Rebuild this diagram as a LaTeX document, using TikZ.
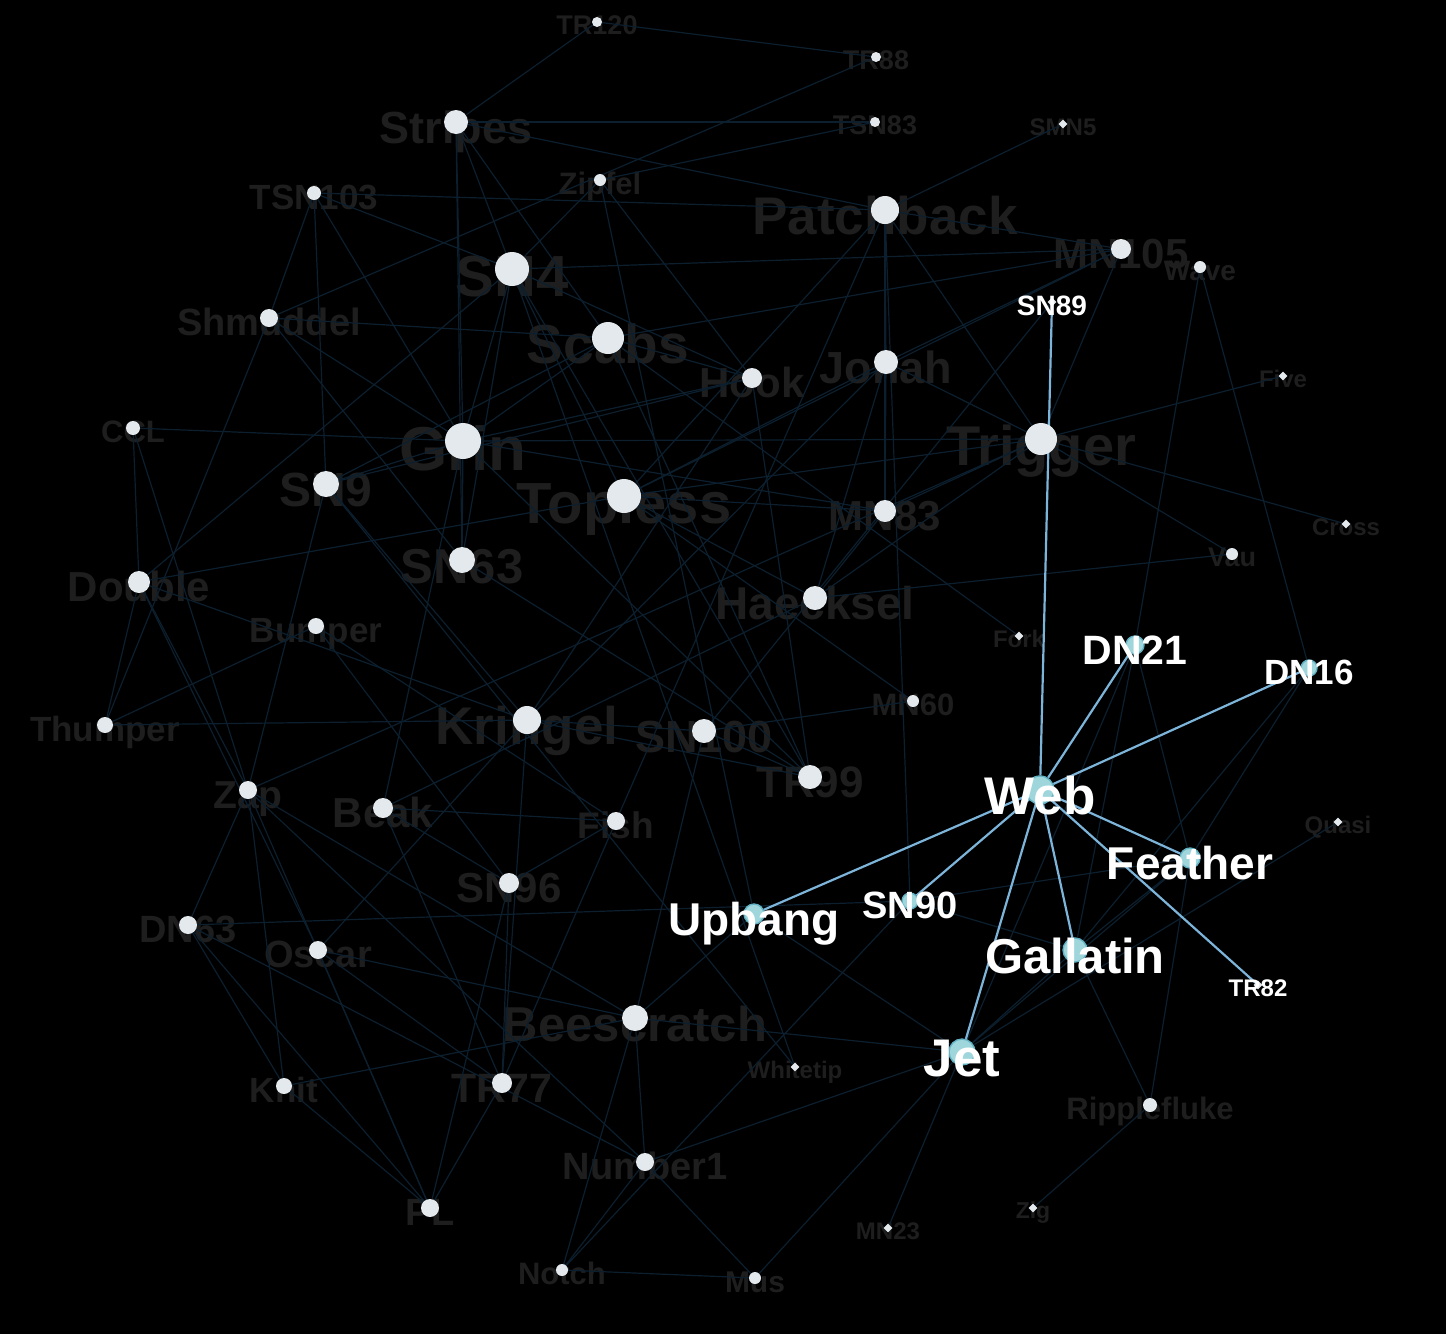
\documentclass[tikz,border=0pt]{standalone}
\usepackage{fontspec}
\setmainfont{Liberation Sans}
\usetikzlibrary{shapes.geometric}
\definecolor{PodBG}{HTML}{000000}
\definecolor{PodNode}{HTML}{E3E9ED}
\definecolor{PodInk}{HTML}{1E1E1E}
\definecolor{PodEdge}{HTML}{0C1F2F}
\definecolor{PodBlue}{HTML}{7DB4D9}
\definecolor{PodHub}{HTML}{9FD6DC}
\definecolor{PodRing}{HTML}{62B2C4}
\pgfdeclarelayer{bg}
\pgfdeclarelayer{labels}
\pgfdeclarelayer{edges}
\pgfdeclarelayer{front}
\pgfsetlayers{bg,labels,edges,main,front}
\tikzset{
  podnode/.style  = {circle, fill=PodNode, inner sep=0pt},
  podpip/.style   = {diamond, fill=PodNode, inner sep=0pt, minimum size=9pt},
  podhub/.style   = {circle, fill=PodHub, draw=PodRing, line width=1.4pt, inner sep=0pt},
  podlbl/.style   = {text=PodInk, inner sep=0pt, anchor=base},
  podlblhi/.style = {podlbl, text=white},
  podedge/.style  = {PodEdge, line width=1.2pt},
  podedgehi/.style= {PodBlue, line width=2.2pt},
}
\begin{document}
\begin{tikzpicture}[x=1pt, y=-1pt]
  \begin{pgfonlayer}{bg}
    \fill[PodBG] (0,0) rectangle (1446,1334);
  \end{pgfonlayer}
  \useasboundingbox (0,0) rectangle (1446,1334);

  % ordinary dolphins: name/x/y/radius/font size
  \foreach \n/\x/\y/\r/\f in {Beak/383/808/10/42, Beescratch/635/1018/13/49, Bumper/316/626/8/35,
      CCL/133/428/7/31, Double/139/582/11/42, Fish/616/821/9/37, Grin/463/441/18/62,
      Haecksel/815/598/12/46, Hook/752/378/10/42, Jonah/886/362/12/45, Knit/284/1086/8/35,
      Kringel/527/720/14/53, MN105/1121/249/10/42, MN60/913/701/6/31, MN83/885/511/11/42,
      Mus/755/1278/6/30, Notch/562/1270/6/31, Number1/645/1162/9/38, Oscar/318/950/9/38,
      Patchback/885/210/14/53, PL/430/1208/9/38, Ripplefluke/1150/1105/7/31, Scabs/608/338/16/55,
      Shmuddel/269/318/9/38, SN100/704/731/12/45, SN4/512/269/17/58, SN63/462/560/13/49,
      SN9/326/484/13/48, SN96/509/883/10/42, Stripes/456/122/12/45, Thumper/105/725/8/35,
      Topless/624/496/17/58, TR120/597/22/5/27, TR77/502/1083/10/41, TR88/876/57/5/27,
      TR99/810/777/12/44, Trigger/1041/439/16/56, TSN103/314/193/7/35, TSN83/875/122/5/27,
      Vau/1232/554/6/27, Wave/1200/267/6/28, Zap/248/790/9/39, Zipfel/600/180/6/31,
      DN63/188/925/9/38}{
    \node[podnode, minimum size={2*\r*1pt}] (\n) at (\x,\y) {};
    \begin{pgfonlayer}{labels}
      \node[podlbl, font=\bfseries\fontsize{\f}{\f}\selectfont] at (\x,{\y+0.47*\f}) {\n};
    \end{pgfonlayer}
  }
  % loners
  \foreach \n/\x/\y/\f in {Cross/1346/524/24, Five/1283/376/24, Fork/1019/636/24, MN23/888/1228/24,
      SMN5/1063/124/24, Whitetip/795/1067/24, Zig/1033/1208/23, Quasi/1338/822/24}{
    \node[podpip] (\n) at (\x,\y) {};
    \begin{pgfonlayer}{labels}
      \node[podlbl, font=\bfseries\fontsize{\f}{\f}\selectfont] at (\x,{\y+0.47*\f}) {\n};
    \end{pgfonlayer}
  }
  % Web and its friends
  \foreach \n/\x/\y/\r/\f in {Web/1040/790/14/53, DN21/1135/645/9/41, DN16/1309/668/8/35,
      Feather/1190/858/10/46, Gallatin/1075/950/12/49, Jet/962/1052/13/53, SN90/910/901/8/38,
      Upbang/754/914/10/46}{
    \node[podhub, minimum size={2*\r*1pt}] (\n) at (\x,\y) {};
    \begin{pgfonlayer}{front}
      \node[podlblhi, font=\bfseries\fontsize{\f}{\f}\selectfont] at (\x,{\y+0.47*\f}) {\n};
    \end{pgfonlayer}
  }
  \foreach \n/\x/\y/\f in {SN89/1052/302/28, TR82/1258/985/24}{
    \node[podpip] (\n) at (\x,\y) {};
    \begin{pgfonlayer}{front}
      \node[podlblhi, font=\bfseries\fontsize{\f}{\f}\selectfont] at (\x,{\y+0.47*\f}) {\n};
    \end{pgfonlayer}
  }

  \begin{pgfonlayer}{edges}
    \foreach \a/\b in {Double/CCL, Feather/DN16, Feather/DN21, Fish/Beak, Fish/Bumper, Gallatin/DN16,
        Gallatin/DN21, Gallatin/Feather, Grin/Beak, Grin/CCL, Haecksel/Beak, Hook/Grin, Jet/Beescratch,
        Jet/DN21, Jet/Feather, Jet/Gallatin, Jonah/Haecksel, Knit/Beescratch, Knit/DN63, Kringel/Double,
        Kringel/Hook, Kringel/Jonah, MN105/Jonah, MN23/Jet, MN83/Grin, MN83/Haecksel, MN83/Jonah,
        Mus/Jet, Notch/Beescratch, Notch/Mus, Number1/Beescratch, Number1/DN63, Number1/Jet,
        Number1/Mus, Number1/Notch, Oscar/Beescratch, Oscar/Double, Oscar/Kringel, Patchback/Fish,
        Patchback/Jonah, Patchback/MN105, Patchback/MN83, PL/DN63, PL/Knit, PL/Oscar, Quasi/Jet,
        Ripplefluke/Feather, Ripplefluke/Gallatin, Scabs/Fork, Scabs/Grin, Scabs/Hook, Scabs/MN105,
        Shmuddel/Grin, Shmuddel/Scabs, SMN5/Patchback, SN100/Beescratch, SN100/Kringel, SN100/MN60,
        SN4/Double, SN4/Grin, SN4/Hook, SN4/MN105, SN63/Grin, SN63/Shmuddel, SN63/SN4, SN89/SN100,
        SN9/Grin, SN9/Hook, SN9/Kringel, SN9/Scabs, SN90/Feather, SN90/Gallatin, SN90/Notch,
        SN90/Patchback, SN96/Beak, SN96/Bumper, SN96/Fish, SN96/PL, Stripes/Grin, Stripes/Patchback,
        Stripes/Scabs, Stripes/SN4, Stripes/SN63, Thumper/Bumper, Thumper/Kringel, Thumper/Shmuddel,
        Thumper/Double, Topless/Double, Topless/Haecksel, Topless/Jonah, Topless/MN105, Topless/MN60,
        Topless/MN83, Topless/Patchback, Topless/SN4, TR120/Stripes, TR77/Beak, TR77/Fish,
        TR77/Kringel, TR77/Oscar, TR77/PL, TR77/SN96, TR88/Shmuddel, TR88/TR120, TR99/Grin, TR99/Hook,
        TR99/Kringel, TR99/Scabs, TR99/SN100, TR99/SN4, TR99/SN63, Trigger/Grin, Trigger/Haecksel,
        Trigger/Jonah, Trigger/MN83, Trigger/Patchback, Trigger/Topless, Trigger/Five, Trigger/Cross,
        Trigger/Vau, Trigger/MN105, TSN103/Grin, TSN103/Patchback, TSN103/Shmuddel, TSN103/SN4,
        TSN103/SN9, TSN83/Stripes, TSN83/Zipfel, Upbang/Beescratch, Upbang/Jet, Vau/Haecksel,
        Wave/DN16, Wave/DN21, Whitetip/SN4, Whitetip/SN9, Zap/Beescratch, Zap/DN63, Zap/Knit,
        Zap/Number1, Zap/PL, Zap/SN9, Zap/Trigger, Zap/CCL, Zap/Double, Zig/Ripplefluke, Zipfel/Hook,
        Zipfel/SN4, Zipfel/Upbang, DN63/SN90}
      \draw[podedge] (\a) -- (\b);
    \foreach \b in {SN89, DN21, DN16, Feather, TR82, Gallatin, Jet, SN90, Upbang}
      \draw[podedgehi] (Web) -- (\b);
  \end{pgfonlayer}
\end{tikzpicture}
\end{document}
